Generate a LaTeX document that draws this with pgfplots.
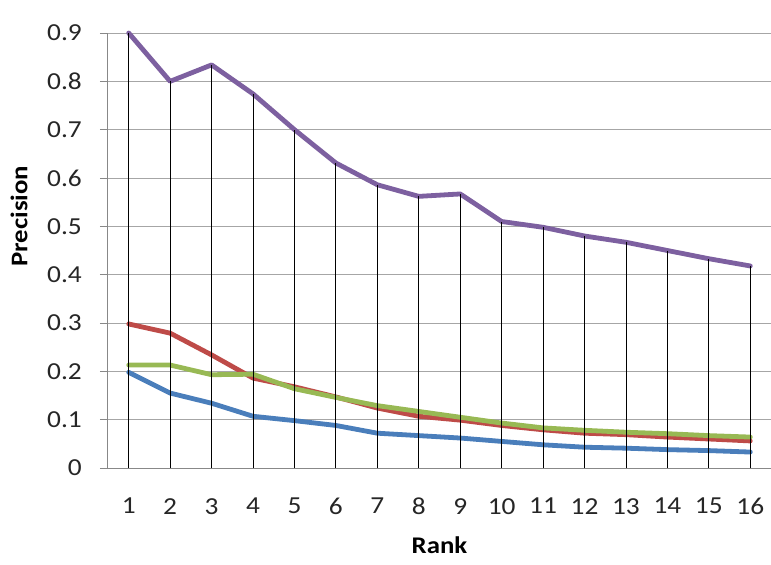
\documentclass[border=0pt]{standalone}
\usepackage{pgfplots}
\usepackage{pgfplotstable}
\pgfplotsset{compat=1.18}
\usepackage{fontspec}
\setmainfont{Carlito}[FakeStretch=1.12]

\definecolor{xlblue}{HTML}{4A7EBB}
\definecolor{xlred}{HTML}{BE4B48}
\definecolor{xlgreen}{HTML}{98B954}
\definecolor{xlpurple}{HTML}{7D60A0}
\definecolor{gridgray}{HTML}{A6A6A6}
\definecolor{axisgray}{HTML}{888888}

% precision at rank k
\pgfplotstableread{
rank blue  red   green purple
1    0.198 0.298 0.213 0.900
2    0.155 0.279 0.213 0.800
3    0.134 0.234 0.193 0.834
4    0.107 0.186 0.194 0.774
5    0.098 0.168 0.164 0.700
6    0.088 0.147 0.146 0.631
7    0.072 0.124 0.129 0.586
8    0.067 0.107 0.117 0.562
9    0.062 0.099 0.105 0.567
10   0.055 0.088 0.093 0.510
11   0.048 0.079 0.083 0.498
12   0.043 0.072 0.078 0.480
13   0.041 0.069 0.074 0.467
14   0.038 0.064 0.071 0.450
15   0.036 0.060 0.067 0.433
16   0.033 0.056 0.064 0.418
}\prec

\begin{document}
\begin{tikzpicture}
\begin{axis}[
    at={(0,0)}, anchor=south west,
    scale only axis, width=663bp, height=435bp,
    xmin=0.5, xmax=16.5, ymin=0, ymax=0.9,
    clip=false,
    axis lines*=left,
    axis line style={axisgray, line width=1bp},
    xtick={1,...,16},
    xtick style={draw=none},
    ytick={0,0.1,...,0.9},
    yticklabels={0,0.1,0.2,0.3,0.4,0.5,0.6,0.7,0.8,0.9},
    ytick style={axisgray, line width=1bp},
    tick align=outside,
    major tick length=8bp,
    ymajorgrids,
    grid style={gridgray, line width=1bp},
    /pgf/number format/assume math mode=true,
    tick label style={font=\fontsize{24.5}{26}\selectfont, text=black!85},
    xticklabel style={inner sep=0pt, yshift=-22bp},
    yticklabel style={inner sep=0pt, xshift=-18bp},
    xlabel={\bfseries Rank},
    ylabel={\bfseries Precision},
    label style={font=\fontsize{24}{26}\selectfont},
    xlabel style={at={(axis description cs:0.5,0)}, anchor=north, inner sep=0pt, yshift=-69bp},
    ylabel style={at={(axis description cs:0,0.579)}, anchor=center, inner sep=0pt, yshift=89bp},
    every axis plot/.append style={line width=4.8bp, line join=round, line cap=round},
]
\addplot[xlblue] table[x=rank, y=blue] {\prec};
\addplot[xlred] table[x=rank, y=red] {\prec};
\addplot[xlgreen] table[x=rank, y=green] {\prec};
\addplot[xlpurple] table[x=rank, y=purple] {\prec};
% drop lines
\addplot[ycomb, black, line width=0.9bp, line cap=butt] table[x=rank, y=purple] {\prec};
\end{axis}
\pgfresetboundingbox
\path[use as bounding box] (-108bp,-97bp) rectangle (663bp,468bp);
\end{tikzpicture}
\end{document}
